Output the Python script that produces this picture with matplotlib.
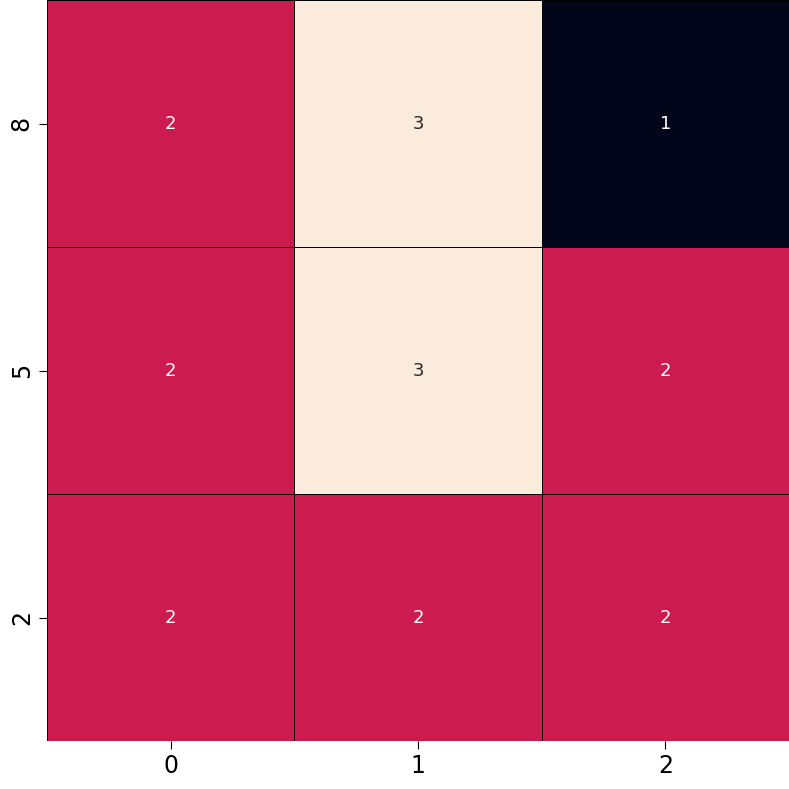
import matplotlib
matplotlib.use("Agg")
import matplotlib.pyplot as plt
import seaborn as sns
import pandas as pd

x_labels = [0, 1, 2]
y_labels = [8, 5, 2]
values = [
    [2, 3, 1],
    [2, 3, 2],
    [2, 2, 2],
]

df = pd.DataFrame(values, index=y_labels, columns=x_labels)

fig = plt.figure(figsize=(7.89, 7.89), dpi=100)
ax = fig.add_axes([0.0596, 0.0608, 0.9404, 0.9392])
sns.heatmap(df, ax=ax, cmap="rocket", annot=True, cbar=False,
            linewidths=0.6, linecolor="black", annot_kws={"fontsize": 13})
ax.tick_params(axis="both", labelsize=17, length=6)
ax.set_yticklabels(ax.get_yticklabels(), rotation=90, va="center")
ax.set_xlabel("")
ax.set_ylabel("")
fig.savefig("out.png", dpi=100)
